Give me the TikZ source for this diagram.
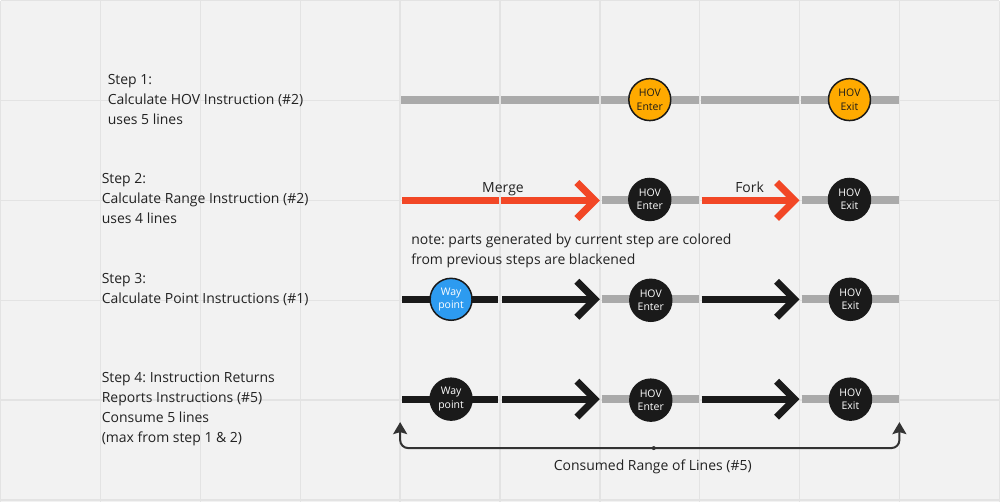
\documentclass[tikz,border=0pt]{standalone}
\usepackage{fontspec}
\setmainfont{Open Sans}
\usetikzlibrary{arrows.meta}
\frenchspacing
\definecolor{bg}{HTML}{F2F2F2}
\definecolor{gridc}{HTML}{E3E3E3}
\definecolor{lanegray}{HTML}{AAAAAA}
\definecolor{redarrow}{HTML}{F24726}
\definecolor{hovorange}{HTML}{FFAA00}
\definecolor{ink}{HTML}{1A1A1A}
\definecolor{wpblue}{HTML}{2D9BF0}
\definecolor{txt}{HTML}{222222}
\definecolor{brk}{HTML}{333333}
\newcommand\chevronat[2]{\draw[chevstyle, draw=#1] (#2) ++(-18,-18) -- (#2) -- ++(-18,18);}
\begin{document}
\begin{tikzpicture}[x=1pt,y=-1pt,
  lane/.style={line width=8pt, draw=lanegray},
  redlane/.style={line width=7pt, draw=redarrow},
  blklane/.style={line width=7pt, draw=ink},
  chevstyle/.style={line width=7pt, miter limit=10},
  station/.style={circle, minimum size=42pt, inner sep=0pt, line width=1.5pt, draw=ink,
    font=\fontsize{10.5}{13.5}\selectfont, align=center},
  hov/.style={station, fill=hovorange, text=ink},
  blk/.style={station, fill=ink, text=white},
  wp/.style={station, fill=wpblue, text=white},
  steptext/.style={anchor=base west, inner sep=0pt, align=left, text=txt,
    font=\fontsize{14}{20}\selectfont},
  lbl/.style={anchor=base, inner sep=0pt, text=txt, font=\fontsize{14}{20}\selectfont},
  bracket/.style={line width=2pt, draw=brk, rounded corners=8pt,
    {Stealth[length=12pt,width=14pt,inset=2pt]}-{Stealth[length=12pt,width=14pt,inset=2pt]}},
]
% background and grid
\fill[bg] (0,0) rectangle (1000,502);
\foreach \gx in {0,100,...,1000} \draw[gridc, line width=1.5pt] (\gx,0) -- (\gx,502);
\foreach \gy in {0,100,...,500} \draw[gridc, line width=1.5pt] (0,\gy) -- (1000,\gy);

% ---------- Step 1 ----------
\draw[lane] (401,99) -- (499,99);
\draw[lane] (501,99) -- (599,99);
\draw[lane] (601,99) -- (699,99);
\draw[lane] (701,99) -- (799,99);
\draw[lane] (801,99) -- (900,99);
\node[hov] (s1enter) at (650,99) {HOV\\Enter};
\node[hov] (s1exit) at (850,99) {HOV\\Exit};

% ---------- Step 2 ----------
\draw[redlane] (402,200) -- (499,200);
\draw[redlane] (501,200) -- (595,200);
\chevronat{redarrow}{595,200}
\draw[lane] (602,200) -- (699,200);
\draw[redlane] (702,200) -- (795,200);
\chevronat{redarrow}{795,200}
\draw[lane] (802,200) -- (900,200);
\node[blk] (s2enter) at (650,199) {HOV\\Enter};
\node[blk] (s2exit) at (850,199) {HOV\\Exit};
\node[lbl] (merge) at (503,192) {Merge};
\node[lbl] (fork) at (750,192) {Fork};

% ---------- Step 3 ----------
\draw[blklane] (402,299) -- (498,299);
\draw[blklane] (502,299) -- (595,299);
\chevronat{ink}{595,299}
\draw[lane] (602,299) -- (699,299);
\draw[blklane] (702,299) -- (795,299);
\chevronat{ink}{795,299}
\draw[lane] (802,299) -- (900,299);
\node[wp] (s3wp) at (451,299) {Way\\point};
\node[blk] (s3enter) at (651,300) {HOV\\Enter};
\node[blk] (s3exit) at (851,299) {HOV\\Exit};

% ---------- Step 4 ----------
\draw[blklane] (402,399) -- (498,399);
\draw[blklane] (502,399) -- (595,399);
\chevronat{ink}{595,399}
\draw[lane] (602,399) -- (699,399);
\draw[blklane] (702,399) -- (795,399);
\chevronat{ink}{795,399}
\draw[lane] (802,399) -- (900,399);
\node[blk] (s4wp) at (451,399) {Way\\point};
\node[blk] (s4enter) at (651,400) {HOV\\Enter};
\node[blk] (s4exit) at (851,399) {HOV\\Exit};

% ---------- texts (base = last line) ----------
\node[steptext] (t1) at (107,124) {Step 1:\\Calculate HOV Instruction (\#2)\\uses 5 lines};
\node[steptext] (t2) at (101,223) {Step 2:\\Calculate Range Instruction (\#2)\\uses 4 lines};
\node[steptext] (t3) at (101,303) {Step 3:\\Calculate Point Instructions (\#1)};
\node[steptext] (t4) at (101,442) {Step 4: Instruction Returns\\Reports Instructions (\#5)\\Consume 5 lines\\(max from step 1 \& 2)};
\node[steptext] (note) at (411,264) {note: parts generated by current step are colored\\from previous steps are blackened};

% ---------- bracket ----------
\coordinate (bl) at (400,422);
\coordinate (br) at (900,422);
\coordinate (bm) at (654,448);
\draw[bracket] (bl) |- (bm) -| (br);
\fill[brk] (bm) circle (2pt);
\node[lbl] (consumed) at (653,470) {Consumed Range of Lines (\#5)};
\end{tikzpicture}
\end{document}
